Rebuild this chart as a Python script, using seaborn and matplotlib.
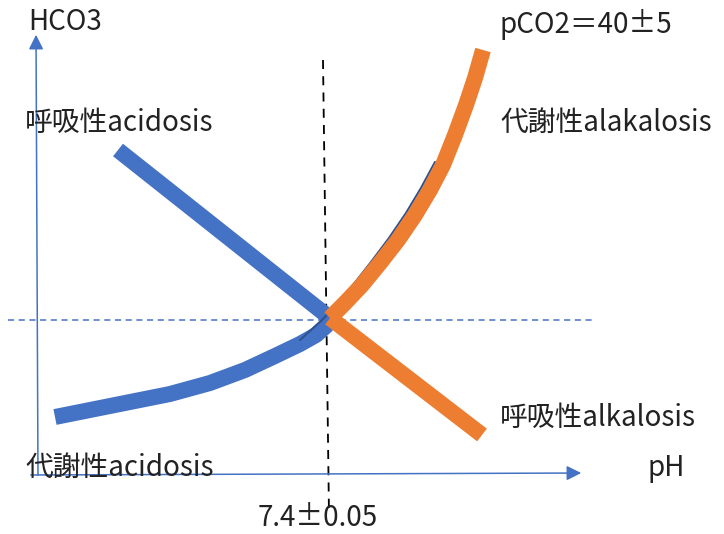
import matplotlib
matplotlib.use("Agg")
import matplotlib.pyplot as plt
import seaborn as sns
import pandas as pd

# Diagram values (drawing units = reference pixels)
resp_acid_x = [118, 330]
resp_acid_y = [150, 318]

met_acid_x = [55, 90, 130, 170, 210, 245, 275, 300, 316, 326, 331]
met_acid_y = [417, 410, 402, 394, 383, 370, 356, 344, 335, 326, 318]

guide_x = [300, 322, 336, 353, 371, 389, 406, 421, 435]
guide_y = [340, 320, 305, 285, 262, 238, 213, 188, 162]

met_alk_x = [330, 345, 362, 380, 398, 415, 430, 443, 455, 466, 475, 483]
met_alk_y = [318, 303, 285, 263, 240, 215, 190, 165, 135, 105, 78, 50]

resp_alk_x = [330, 482]
resp_alk_y = [318, 435]

normal_hco3 = 320
normal_ph = [323, 329]

labels = ["HCO3", "呼吸性acidosis", "代謝性acidosis", "pCO2＝40±5",
          "代謝性alakalosis", "呼吸性alkalosis", "pH", "7.4±0.05"]
label_x = [28, 25, 25, 500, 500, 500, 648, 318]
label_y = [22, 123, 468, 25, 123, 418, 468, 518]

blue = "#4472C4"
orange = "#ED7D31"

sns.set_style("white")
plt.rcParams['font.family'] = ['Noto Sans CJK JP', 'DejaVu Sans']

fig = plt.figure(figsize=(7.24, 5.34), dpi=100)
ax = fig.add_axes([0, 0, 1, 1])
ax.set_xlim(0, 724)
ax.set_ylim(534, 0)
ax.set_axis_off()

# reference lines
ax.axhline(normal_hco3, xmin=8 / 724, xmax=595 / 724, color=blue, lw=1.1, ls=(0, (4, 3)))
ax.plot(normal_ph, [60, 515], color="black", lw=1.3, ls=(0, (5, 4)))

# axes arrows
ax.annotate("", xy=(36, 32), xytext=(38, 478),
            arrowprops=dict(arrowstyle="-|>", color=blue, lw=1.1, mutation_scale=22))
ax.annotate("", xy=(584, 473), xytext=(28, 475),
            arrowprops=dict(arrowstyle="-|>", color=blue, lw=1.1, mutation_scale=22))

lw = 11.5
sns.lineplot(data=pd.DataFrame({"x": resp_acid_x, "y": resp_acid_y}), x="x", y="y",
             ax=ax, color=blue, lw=lw, solid_capstyle="butt", sort=False)
sns.lineplot(data=pd.DataFrame({"x": met_acid_x, "y": met_acid_y}), x="x", y="y",
             ax=ax, color=blue, lw=lw, solid_capstyle="butt", solid_joinstyle="round", sort=False)
sns.lineplot(data=pd.DataFrame({"x": guide_x, "y": guide_y}), x="x", y="y",
             ax=ax, color="#2F528F", lw=1.5, sort=False)
sns.lineplot(data=pd.DataFrame({"x": met_alk_x, "y": met_alk_y}), x="x", y="y",
             ax=ax, color=orange, lw=lw, solid_capstyle="butt", solid_joinstyle="round", sort=False)
sns.lineplot(data=pd.DataFrame({"x": resp_alk_x, "y": resp_alk_y}), x="x", y="y",
             ax=ax, color=orange, lw=lw, solid_capstyle="butt", sort=False)

ax.set_xlim(0, 724)
ax.set_ylim(534, 0)

for txt, x, y in zip(labels, label_x, label_y):
    ha = "center" if txt.startswith("7.4") else "left"
    ax.text(x, y, txt, fontsize=20, color="#222222", ha=ha, va="center")

fig.savefig("out.png", dpi=100)
